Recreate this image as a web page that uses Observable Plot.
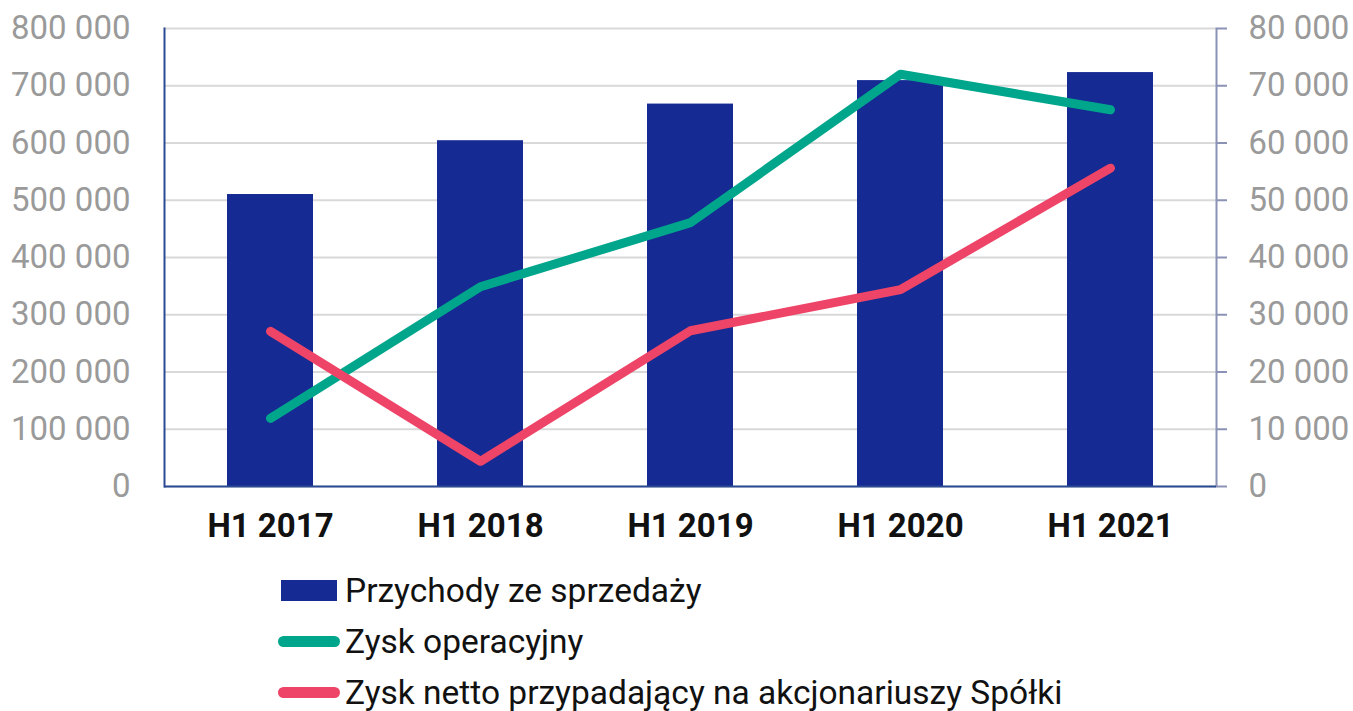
<!DOCTYPE html>
<html>
<head>
<meta charset="utf-8">
<script src="https://cdn.jsdelivr.net/npm/d3@7"></script>
<script src="https://cdn.jsdelivr.net/npm/@observablehq/plot@0.6"></script>
<style>
  body { margin: 0; background: #fff; font-family: Roboto, "Noto Sans", sans-serif; }
  #legend { margin-top: 5px; padding-left: 278px; }
  .row { height: 51px; display: flex; align-items: center; font-size: 33.5px; color: #111; }
  .sw { width: 62px; display: flex; justify-content: center; margin-right: 5px; }
  .rect { width: 56px; height: 21px; }
  .ln { width: 62px; height: 11px; border-radius: 6px; }
</style>
</head>
<body>
<div id="chart"></div>
<div id="legend"></div>
<script>
const categories = ["H1 2017", "H1 2018", "H1 2019", "H1 2020", "H1 2021"];
const revenue = [510000, 604000, 668000, 709000, 723000];
const operatingProfit = [11900, 34900, 46100, 72000, 65800];
const netProfit = [27100, 4400, 27200, 34400, 55600];
const leftTicks = [0, 100000, 200000, 300000, 400000, 500000, 600000, 700000, 800000];
const rightTicks = [0, 10000, 20000, 30000, 40000, 50000, 60000, 70000, 80000];
const seriesNames = ["Przychody ze sprzedaży", "Zysk operacyjny", "Zysk netto przypadający na akcjonariuszy Spółki"];
const colors = ["#152a93", "#00a68c", "#ee4467"];

const ratio = 10; // left scale / right scale
const fmt = v => d3.format(",")(v).replace(/,/g, " ");

const barData = categories.map((c, i) => ({cat: c, v: revenue[i]}));
const opData = categories.map((c, i) => ({cat: c, v: operatingProfit[i] * ratio}));
const netData = categories.map((c, i) => ({cat: c, v: netProfit[i] * ratio}));

const chart = Plot.plot({
  width: 1353,
  height: 560,
  marginLeft: 164,
  marginRight: 137,
  marginTop: 28,
  marginBottom: 74,
  style: {fontFamily: "Roboto, sans-serif", background: "#fff"},
  x: {domain: categories, paddingInner: 0.59, paddingOuter: 0.295, label: null},
  y: {domain: [0, 800000], label: null},
  marks: [
    Plot.gridY(leftTicks, {stroke: "#d9d9d9", strokeOpacity: 1, strokeWidth: 2}),
    Plot.barY(barData, {x: "cat", y: "v", fill: colors[0]}),
    Plot.axisY(leftTicks, {anchor: "left", tickSize: 0, tickPadding: 34, tickFormat: fmt, fontSize: 33, fill: "#9a9a9a", label: null}),
    Plot.axisY(rightTicks.map(d => d * ratio), {anchor: "right", tickSize: 10, tickPadding: 22, tickFormat: d => fmt(d / ratio), fontSize: 33, fill: "#9a9a9a", stroke: "#8a92b6", strokeWidth: 2, label: null}),
    Plot.axisX({tickSize: 0, tickPadding: 27, fontSize: 33, fontWeight: "bold", fill: "#111", label: null}),
    Plot.line(opData, {x: "cat", y: "v", stroke: colors[1], strokeWidth: 9, strokeLinecap: "round", strokeLinejoin: "round"}),
    Plot.line(netData, {x: "cat", y: "v", stroke: colors[2], strokeWidth: 9, strokeLinecap: "round", strokeLinejoin: "round"}),
    Plot.frame({anchor: "left", stroke: "#2c4a94", strokeWidth: 2}),
    Plot.frame({anchor: "right", stroke: "#8a92b6", strokeWidth: 2}),
    Plot.ruleY([0], {stroke: "#2c4a94", strokeWidth: 2})
  ]
});
document.getElementById("chart").appendChild(chart);

const legend = document.getElementById("legend");
seriesNames.forEach((name, i) => {
  const row = document.createElement("div");
  row.className = "row";
  const sw = document.createElement("div");
  sw.className = "sw";
  const inner = document.createElement("div");
  inner.className = i === 0 ? "rect" : "ln";
  inner.style.background = colors[i];
  sw.appendChild(inner);
  const label = document.createElement("span");
  label.textContent = name;
  row.appendChild(sw);
  row.appendChild(label);
  legend.appendChild(row);
});
</script>
</body>
</html>
